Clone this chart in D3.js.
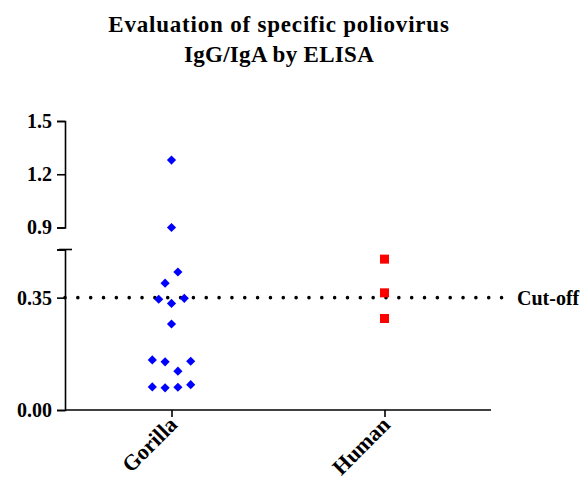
<!DOCTYPE html>
<html>
<head>
<meta charset="utf-8">
<script src="https://cdn.jsdelivr.net/npm/d3@7"></script>
<style>
  html, body { margin: 0; padding: 0; background: #fff; }
  svg text { font-family: "Liberation Serif", "Times New Roman", serif; font-weight: bold; fill: #000; }
</style>
</head>
<body>
<svg id="chart" width="584" height="481"></svg>
<script>
// ---- data ----
const titleLines = ["Evaluation of specific poliovirus", "IgG/IgA by ELISA"];
const categories = ["Gorilla", "Human"];
const gorillaValues = [1.28, 0.90, 0.43, 0.395, 0.345, 0.348, 0.332, 0.268, 0.156, 0.150, 0.152, 0.121, 0.072, 0.069, 0.071, 0.079];
const gorillaSpread = [0, 0, 1, -1, -2, 2, 0, 0, -3, -1, 3, 1, -3, -1, 1, 3];
const humanValues = [0.47, 0.365, 0.285];
const humanSpread = [0, 0, 0];
const cutoffValue = 0.35;
const cutoffLabel = "Cut-off";
const lowerTicks = [0, 0.35, 0.5];
const lowerTickLabels = ["0.00", "0.35", ""];
const upperTicks = [0.9, 1.2, 1.5];
const upperTickLabels = ["0.9", "1.2", "1.5"];

// ---- layout ----
const svg = d3.select("#chart");
const axisX = 65, axisRight = 491, baseY = 410;

const x = d3.scalePoint().domain(categories).range([axisX, axisRight]).padding(0.5);
const yLow = d3.scaleLinear().domain([0, 0.5]).range([baseY, 249.5]);
const yHigh = d3.scaleLinear().domain([0.9, 1.5]).range([227.5, 121]);
const y = v => v <= 0.5 ? yLow(v) : yHigh(v);
const spread = d3.scaleLinear().domain([-1, 1]).range([-6.4, 6.4]);

// title
svg.append("g").selectAll("text").data(titleLines).join("text")
  .attr("x", 279).attr("y", (d, i) => 32 + i * 30)
  .attr("text-anchor", "middle").style("font-size", "23px")
  .style("letter-spacing", (d, i) => i === 0 ? "0.8px" : "0.3px")
  .text(d => d);

// y axes
const fmtLow = d3.scaleOrdinal().domain(lowerTicks).range(lowerTickLabels);
const fmtHigh = d3.scaleOrdinal().domain(upperTicks).range(upperTickLabels);

function styleAxis(g) {
  g.select(".domain").attr("stroke", "#000").attr("stroke-width", 1.6);
  g.selectAll(".tick line").attr("stroke", "#000").attr("stroke-width", 1.6);
  g.selectAll(".tick text").style("font-size", "20px").style("font-family", "Liberation Serif, serif").style("font-weight", "bold").attr("fill", "#000");
}

const gLow = svg.append("g").attr("transform", `translate(${axisX},0)`)
  .call(d3.axisLeft(yLow).tickValues(lowerTicks).tickFormat(d => fmtLow(d)).tickSizeOuter(0).tickSize(8).tickPadding(5));
styleAxis(gLow);
// cap at top of lower segment
gLow.append("line").attr("x1", -6).attr("x2", 7).attr("y1", yLow(0.5)).attr("y2", yLow(0.5))
  .attr("stroke", "#000").attr("stroke-width", 1.6);

const gHigh = svg.append("g").attr("transform", `translate(${axisX},0)`)
  .call(d3.axisLeft(yHigh).tickValues(upperTicks).tickFormat(d => fmtHigh(d)).tickSizeOuter(0).tickSize(8).tickPadding(5));
styleAxis(gHigh);

// x axis
const gx = svg.append("g").attr("transform", `translate(0,${baseY})`)
  .call(d3.axisBottom(x).tickSizeOuter(0).tickSize(7).tickFormat(""));
gx.select(".domain").attr("d", `M${axisX},0H${axisRight}`).attr("stroke", "#000").attr("stroke-width", 1.6);
gx.selectAll(".tick line").attr("stroke", "#000").attr("stroke-width", 1.6);
svg.append("g").selectAll("text").data(categories).join("text")
  .attr("transform", d => `translate(${x(d) + 7},${baseY + 16}) rotate(-45)`)
  .attr("text-anchor", "end").style("font-size", "22px")
  .text(d => d);

// cut-off line
const dotStep = 12.84;
svg.append("line")
  .attr("x1", axisX).attr("x2", axisX + 34 * dotStep + 0.5)
  .attr("y1", yLow(cutoffValue)).attr("y2", yLow(cutoffValue))
  .attr("stroke", "#000").attr("stroke-width", 3.6)
  .attr("stroke-linecap", "round").attr("stroke-dasharray", `0 ${dotStep}`);
svg.append("text").attr("x", 517).attr("y", yLow(cutoffValue) + 7)
  .style("font-size", "20px").text(cutoffLabel);

// points
const diamond = d3.symbol().type(d3.symbolSquare).size(42);
svg.append("g").selectAll("path").data(gorillaValues).join("path")
  .attr("d", diamond)
  .attr("transform", (d, i) => `translate(${x("Gorilla") + spread(gorillaSpread[i])},${y(d)}) rotate(45)`)
  .attr("fill", "#0000ff");

const square = d3.symbol().type(d3.symbolSquare).size(81);
svg.append("g").selectAll("path").data(humanValues).join("path")
  .attr("d", square)
  .attr("transform", (d, i) => `translate(${x("Human") + spread(humanSpread[i])},${y(d)})`)
  .attr("fill", "#ff0000");
</script>
</body>
</html>
